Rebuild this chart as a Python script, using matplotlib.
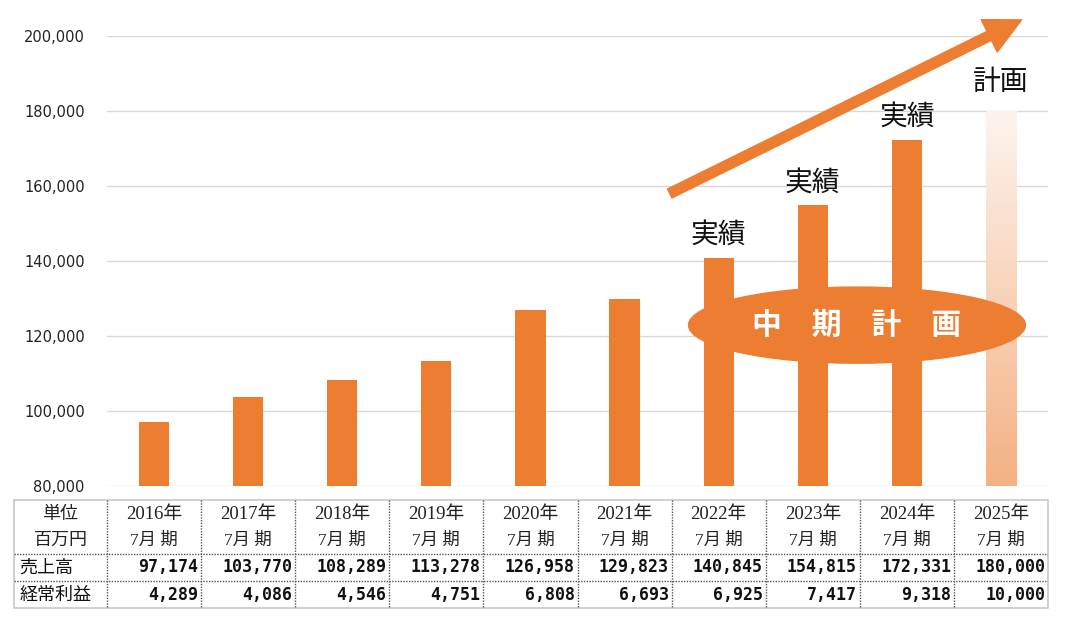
import numpy as np
import matplotlib.pyplot as plt
from matplotlib.patches import Ellipse
from matplotlib.colors import to_rgb

plt.rcParams['font.family'] = ['Noto Sans CJK JP', 'DejaVu Sans']

years = ['2016年', '2017年', '2018年', '2019年', '2020年',
         '2021年', '2022年', '2023年', '2024年', '2025年']
period = '7月 期'
sales = [97174, 103770, 108289, 113278, 126958,
         129823, 140845, 154815, 172331, 180000]
profit = [4289, 4086, 4546, 4751, 6808, 6693, 6925, 7417, 9318, 10000]
labels = ['', '', '', '', '', '', '実績', '実績', '実績', '計画']

W, H = 1067, 631
fig = plt.figure(figsize=(W / 100, H / 100), dpi=100)

# main chart area (pixel layout)
ax = fig.add_axes([107 / W, (H - 486) / H, (1048 - 107) / W, 450 / H])
ax.set_xlim(-0.5, 9.5)
ax.set_ylim(80000, 200000)
ax.set_yticks(range(80000, 200001, 20000))
ax.set_yticklabels([f'{v:,}' for v in range(80000, 200001, 20000)],
                   fontsize=10.5, color='#222222', family='DejaVu Sans')
ax.tick_params(axis='y', length=0, pad=16)
ax.set_xticks([])
for s in ax.spines.values():
    s.set_visible(False)
ax.grid(axis='y', color='#d9d9d9', linewidth=1)
ax.set_axisbelow(True)

orange = '#ED7D31'
x = np.arange(len(years))
bw = 0.32
ax.bar(x[:-1], sales[:-1], bw, color=orange, zorder=2)

# plan bar with gradient
c0 = np.array(to_rgb('#F4B183'))
c1 = np.array(to_rgb('#FDF4EE'))
t = np.linspace(0, 1, 256)[:, None]
grad = (c0 * (1 - t) + c1 * t)[:, None, :]
ax.imshow(grad, extent=[x[-1] - bw / 2, x[-1] + bw / 2, 80000, sales[-1]],
          origin='lower', aspect='auto', zorder=2)

gap = {'実績': 2200, '計画': 3700}
for xi, v, lab in zip(x, sales, labels):
    if lab:
        ax.text(xi, v + gap[lab], lab, ha='center', va='bottom',
                fontsize=20, color='#111111', zorder=5)

# mid-term plan ellipse
ax.add_patch(Ellipse((7.47, 122900), 3.58, 20300, color=orange,
                     zorder=4, clip_on=False))
ax.text(7.47, 122900, '中　期　計　画', ha='center', va='center',
        fontsize=21.5, fontweight='bold', color='white', zorder=5)

# growth arrow
ax.annotate('', xy=(9.22, 204300), xytext=(5.48, 158000),
            arrowprops=dict(arrowstyle='simple,head_length=1.3,head_width=1.3,tail_width=0.36',
                            color=orange, mutation_scale=20, shrinkA=0, shrinkB=0),
            annotation_clip=False, zorder=5)

# data table below
first_w = (107 - 14) / 94.1
tx = fig.add_axes([14 / W, (H - 608) / H, (1048 - 14) / W, 108 / H])
tx.set_xlim(-0.5 - first_w, 9.5)
tx.set_ylim(4, 0)
tx.axis('off')

light = '#c8c8c8'
dark = '#555555'
left = -0.5 - first_w
tx.plot([left, 9.5, 9.5, left, left], [0, 0, 4, 4, 0], color=light,
        lw=1.2, clip_on=False)
for xv in np.arange(-0.5, 9.0, 1.0):
    tx.plot([xv, xv], [0, 4], color=dark, lw=1, ls=(0, (1, 1)))
for yv in [2, 3]:
    tx.plot([left, 9.5], [yv, yv], color=dark, lw=1, ls=(0, (1, 1)))

serif = ['Liberation Serif', 'Noto Sans CJK JP']
tx.text(left + first_w / 2, 0.55, '単位', ha='center', va='center',
        fontsize=13, family=serif, color='#222222')
tx.text(left + first_w / 2, 1.5, '百万円', ha='center', va='center',
        fontsize=13, family=serif, color='#222222')
for xi, y in zip(x, years):
    tx.text(xi, 0.55, y, ha='center', va='center', fontsize=13.5,
            family=serif, color='#222222')
    tx.text(xi, 1.5, period, ha='center', va='center', fontsize=12.5,
            family=serif, color='#222222')

tx.text(left + 0.06, 2.5, '売上高', ha='left', va='center', fontsize=13,
        color='#111111')
tx.text(left + 0.06, 3.5, '経常利益', ha='left', va='center', fontsize=13,
        color='#111111')
for xi, s, p in zip(x, sales, profit):
    tx.text(xi + 0.47, 2.5, f'{s:,}', ha='right', va='center',
            fontsize=12, fontweight='bold', color='#111111',
            family='DejaVu Sans Mono')
    tx.text(xi + 0.47, 3.5, f'{p:,}', ha='right', va='center',
            fontsize=12, fontweight='bold', color='#111111',
            family='DejaVu Sans Mono')

plt.savefig('out.png', dpi=100)
